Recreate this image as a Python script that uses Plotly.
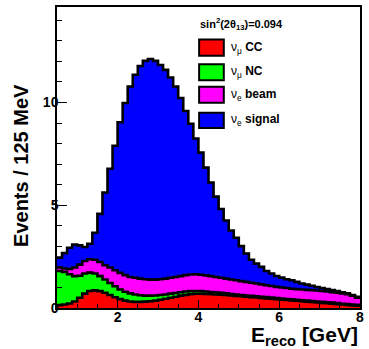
import numpy as np
import plotly.graph_objects as go

# Reconstructed-energy binning: 125 MeV bins from 0.5 to 8 GeV
e_min, e_max, bin_w = 0.5, 8.0, 0.125

# Expected events per bin for each component
numu_cc = [0.14, 0.17, 0.22, 0.32, 0.50, 0.70, 0.83, 0.86, 0.82, 0.74,
           0.63, 0.52, 0.43, 0.36, 0.32, 0.30, 0.30, 0.31, 0.33, 0.36,
           0.40, 0.45, 0.50, 0.55, 0.60, 0.64, 0.67, 0.69, 0.69, 0.68,
           0.67, 0.66, 0.65, 0.63, 0.61, 0.59, 0.57, 0.55, 0.53, 0.51,
           0.49, 0.47, 0.45, 0.43, 0.41, 0.39, 0.37, 0.35, 0.33, 0.31,
           0.29, 0.27, 0.25, 0.23, 0.21, 0.19, 0.17, 0.15, 0.13, 0.11]
numu_nc = [1.66, 1.59, 1.42, 1.23, 1.07, 0.98, 0.89, 0.82, 0.73, 0.65,
           0.59, 0.54, 0.47, 0.43, 0.39, 0.36, 0.32, 0.29, 0.27, 0.25,
           0.23, 0.21, 0.20, 0.18, 0.17, 0.16, 0.15, 0.14, 0.13, 0.12,
           0.11, 0.10, 0.09, 0.08, 0.07, 0.07, 0.06, 0.06, 0.06, 0.06,
           0.06, 0.06, 0.06, 0.05, 0.05, 0.05, 0.05, 0.05, 0.05, 0.05,
           0.05, 0.05, 0.05, 0.05, 0.05, 0.05, 0.04, 0.04, 0.04, 0.04]
nue_beam = [0.17, 0.16, 0.26, 0.42, 0.54, 0.61, 0.65, 0.67, 0.69, 0.69,
            0.75, 0.78, 0.81, 0.81, 0.80, 0.81, 0.81, 0.80, 0.78, 0.77,
            0.77, 0.77, 0.77, 0.78, 0.78, 0.80, 0.81, 0.81, 0.80, 0.79,
            0.77, 0.75, 0.73, 0.72, 0.71, 0.69, 0.68, 0.66, 0.64, 0.62,
            0.60, 0.58, 0.56, 0.55, 0.54, 0.53, 0.52, 0.52, 0.52, 0.52,
            0.53, 0.53, 0.53, 0.52, 0.51, 0.50, 0.50, 0.48, 0.43, 0.35]
nue_signal = [0.48, 0.75, 1.03, 1.12, 0.94, 0.68, 0.76, 1.31, 2.34, 3.54,
              4.81, 6.06, 7.33, 8.38, 9.27, 9.88, 10.35, 10.63, 10.74, 10.65,
              10.43, 10.16, 9.75, 9.27, 8.67, 7.99, 7.34, 6.61, 5.94, 5.24,
              4.56, 3.91, 3.35, 2.83, 2.38, 2.07, 1.70, 1.38, 1.12, 0.97,
              0.85, 0.69, 0.61, 0.53, 0.48, 0.43, 0.41, 0.35, 0.29, 0.26,
              0.21, 0.17, 0.14, 0.12, 0.10, 0.08, 0.06, 0.04, 0.03, 0.05]

components = [
    ("numu_cc", numu_cc, "#ff0000", "ν<sub>μ</sub> <b>CC</b>"),
    ("numu_nc", numu_nc, "#00ff00", "ν<sub>μ</sub> <b>NC</b>"),
    ("nue_beam", nue_beam, "#ff00ff", "ν<sub>e</sub> <b>beam</b>"),
    ("nue_signal", nue_signal, "#0000ff", "ν<sub>e</sub> <b>signal</b>"),
]
header = "<b>sin<sup>2</sup>(2θ<sub>13</sub>)=0.094</b>"

n_bins = len(numu_cc)
edges = e_min + bin_w * np.arange(n_bins + 1)
stack = np.cumsum([np.array(c[1]) for c in components], axis=0)

W, H = 369, 349
ML, MR, MT, MB = 57, 5, 6, 41
PW, PH = W - ML - MR, H - MT - MB


def paper(x, y):
    return (x - ML) / PW, (H - MB - y) / PH


fig = go.Figure()
# draw the stack top-down so each lower layer sits over the one above it
for (name, vals, color, label), top in reversed(list(zip(components, stack))):
    fig.add_trace(go.Scatter(
        x=edges, y=np.append(top, top[-1]), mode="lines", line_shape="hv",
        line=dict(color="black", width=2.6), fill="tozeroy",
        fillcolor=color, name=name, showlegend=False, hoverinfo="skip"))

font = "Liberation Sans"
shapes, annotations = [], []
box_rows = [(38.5, 55), (63.5, 79.5), (86, 102), (112, 127.5)]
for (name, vals, color, label), (y0, y1) in zip(components, box_rows):
    x0p, y0p = paper(201, y1)
    x1p, y1p = paper(226, y0)
    shapes.append(dict(type="rect", xref="paper", yref="paper",
                       x0=x0p, y0=y0p, x1=x1p, y1=y1p,
                       fillcolor=color, line=dict(color="black", width=2)))
    lx, ly = paper(231, (y0 + y1) / 2)
    annotations.append(dict(xref="paper", yref="paper", x=lx, y=ly,
                            xanchor="left", yanchor="middle", showarrow=False,
                            text=label, font=dict(family=font, size=12, color="black")))

hx, hy = paper(200, 23)
annotations.append(dict(xref="paper", yref="paper", x=hx, y=hy, xanchor="left",
                        yanchor="middle", showarrow=False, text=header,
                        font=dict(family=font, size=11, color="black")))

# axis titles
tx, ty = paper(21, 165)
annotations.append(dict(xref="paper", yref="paper", x=tx, y=ty, textangle=-90,
                        xanchor="center", yanchor="middle", showarrow=False,
                        text="<b>Events / 125 MeV</b>",
                        font=dict(family=font, size=20, color="black")))
ex, ey = paper(364, 351)
annotations.append(dict(xref="paper", yref="paper", x=ex, y=ey, xanchor="right",
                        yanchor="bottom", showarrow=False,
                        text="<b>E<sub>reco</sub> [GeV]</b>",
                        font=dict(family=font, size=21, color="black")))

axis_common = dict(showgrid=False, zeroline=False, showline=True, mirror=True,
                   linecolor="black", linewidth=1.5, ticks="inside",
                   tickcolor="black", tickwidth=1.2,
                   tickfont=dict(family=font, size=14, color="black", weight="bold"))

fig.update_layout(
    width=W, height=H,
    margin=dict(l=ML, r=MR, t=MT, b=MB),
    paper_bgcolor="white", plot_bgcolor="white",
    shapes=shapes, annotations=annotations,
    xaxis=dict(range=[e_min, e_max], tickvals=[2, 4, 6, 8], ticklen=8,
               ticklabelstandoff=-5,
               minor=dict(dtick=0.5, tick0=0.5, ticklen=4, ticks="inside",
                          tickcolor="black", tickwidth=1.2),
               **axis_common),
    yaxis=dict(range=[0, 14.65], tickvals=[0, 5, 10], ticklen=10,
               ticklabelstandoff=-6,
               minor=dict(dtick=1, ticklen=5, ticks="inside",
                          tickcolor="black", tickwidth=1.2),
               **axis_common),
)

fig.write_html("out.html")
